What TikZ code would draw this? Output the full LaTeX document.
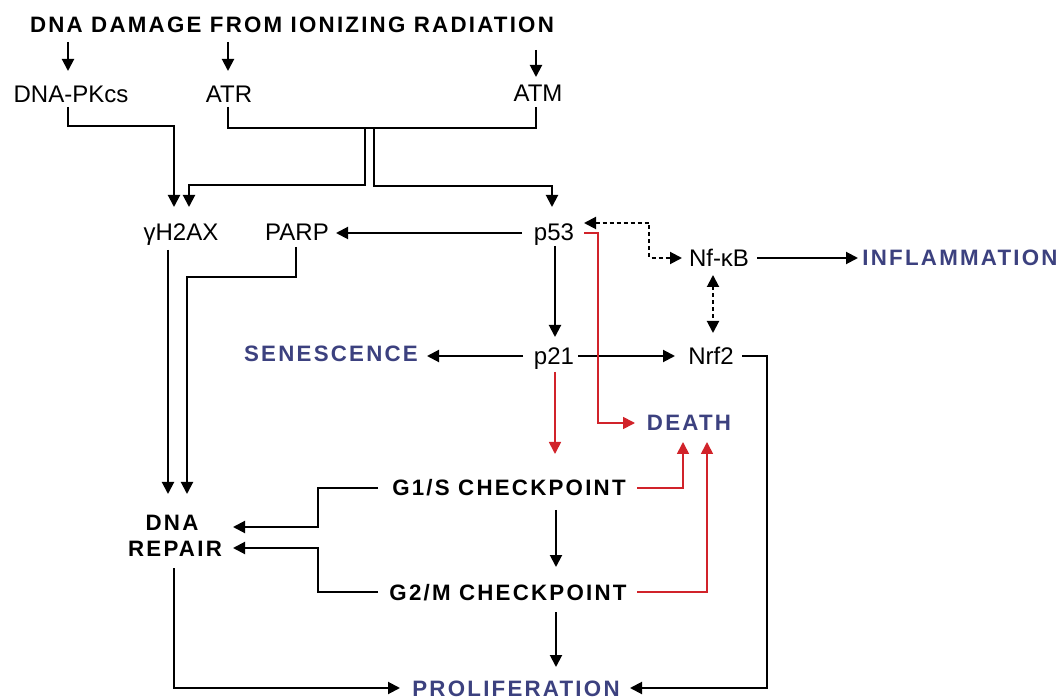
\documentclass[tikz,border=0pt]{standalone}
\usepackage{fontspec}
\setmainfont{Liberation Sans}
\newfontfamily\spc[LetterSpace=10]{Liberation Sans}
\usetikzlibrary{arrows.meta}
\definecolor{outc}{HTML}{3C417F}
\definecolor{redl}{HTML}{D1232A}
\begin{document}
\begin{tikzpicture}[x=1pt,y=-1pt,
  lab/.style={font=\fontsize{24}{26}\selectfont, inner sep=0pt, text height=17pt, text depth=0pt},
  bl/.style={font=\spc\bfseries\fontsize{22.3}{24}\selectfont, inner sep=0pt, text height=16pt, text depth=0pt},
  oc/.style={bl, text=outc},
  tip/.tip={Triangle[length=12pt,width=12pt]},
  ln/.style={line width=2pt},
  arr/.style={ln, -tip},
  rarr/.style={line width=1.7pt, color=redl, -tip},
  darr/.style={ln, dash pattern=on 4pt off 3pt, tip-tip}
]
\fill[white] (0,0) rectangle (1061,700);
\useasboundingbox (0,0) rectangle (1061,700);

% nodes
\node[bl] (title) at (292,25) {DNA DAMAGE FROM IONIZING RADIATION};
\node[lab] (dnapk) at (71,94) {DNA-PKcs};
\node[lab] (atr) at (229,94) {ATR};
\node[lab] (atm) at (538,93) {ATM};
\node[lab] (gh) at (181,232) {γH2AX};
\node[lab] (parp) at (297,232) {PARP};
\node[lab] (p53) at (554,232) {p53};
\node[lab] (nfkb) at (719,258) {Nf-κB};
\node[oc] (infl) at (960,258) {INFLAMMATION};
\node[lab] (p21) at (554,356) {p21};
\node[oc] (sen) at (331,354) {SENESCENCE};
\node[lab] (nrf2) at (711,356) {Nrf2};
\node[oc] (death) at (689,423) {DEATH};
\node[bl] (g1) at (509,488) {G1/S CHECKPOINT};
\node[bl] (g2) at (508,592) {G2/M CHECKPOINT};
\node[bl] (repA) at (172,522) {DNA};
\node[bl] (repB) at (175,549) {REPAIR};
\node[oc] (prol) at (516,688) {PROLIFERATION};

% title arrows
\draw[arr] (68,42) -- (68,71);
\draw[arr] (228,42) -- (228,71);
\draw[arr] (536,50) -- (536,77);

% kinases to gH2AX / p53
\draw[arr] (68,107) |- (174,126) -- (174,207);
\draw[ln] (228,107) |- (536,128) -- (536,107);
\draw[arr] (365,128) |- (189,185) -- (189,207);
\draw[arr] (374,128) |- (552,186) -- (552,207);

% p53 connections
\draw[arr] (522,233) -- (336,233);
\draw[darr] (584,223) -- (649,223) |- (682,258);
\draw[arr] (757,258) -- (858,258);
\draw[darr] (713,275) -- (713,333);
\draw[arr] (555,246) -- (555,337);
\draw[arr] (523,356) -- (427,356);
\draw[arr] (578,356) -- (675,356);
\draw[arr] (742,356) -| (767,688) -- (630,688);

% red death paths
\draw[rarr] (584,233) -| (598,423) -- (635,423);
\draw[rarr] (555,372) -- (555,454);
\draw[rarr] (637,488) -| (683,442);
\draw[rarr] (637,592) -| (707,442);

% checkpoints
\draw[arr] (378,488) -| (318,527) -- (233,527);
\draw[arr] (378,592) -| (318,548) -- (233,548);
\draw[arr] (556,510) -- (556,567);
\draw[arr] (556,612) -- (556,667);

% repair
\draw[arr] (168,250) -- (168,494);
\draw[arr] (296,247) |- (187,277) -- (187,494);
\draw[arr] (174,568) |- (400,688);
\end{tikzpicture}
\end{document}
